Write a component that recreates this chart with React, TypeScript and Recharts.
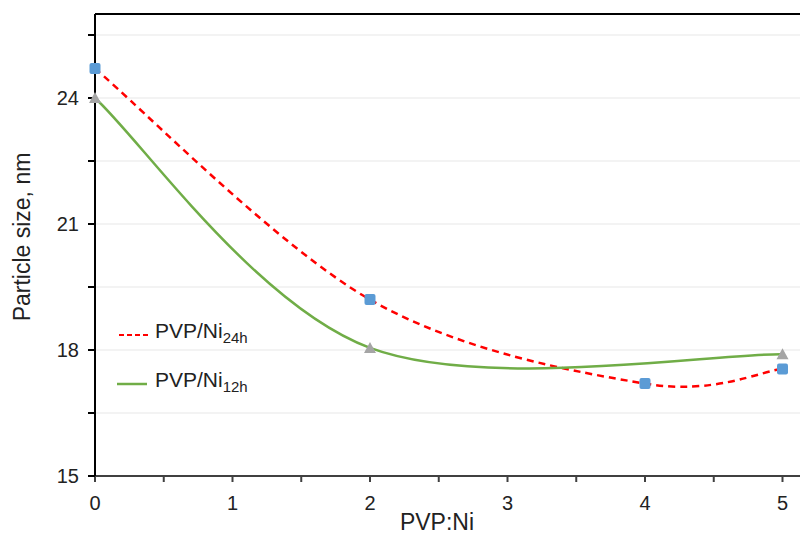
import React from 'react';
import { LineChart, Line, XAxis, YAxis, CartesianGrid, ReferenceLine } from 'recharts';

// PVP:Ni ratios and measured particle sizes (nm)
const ratios24h = [0, 2, 4, 5];
const size24h = [24.7, 19.2, 17.2, 17.55];
const ratios12h = [0, 2, 5];
const size12h = [24.0, 18.05, 17.9];

const xTicks = [0, 0.5, 1, 1.5, 2, 2.5, 3, 3.5, 4, 4.5, 5];
const yTicks = [15, 16.5, 18, 19.5, 21, 22.5, 24, 25.5];

const data24h = ratios24h.map((x, i) => ({ x, y: size24h[i] }));
const data12h = ratios12h.map((x, i) => ({ x, y: size12h[i] }));

const FONT = '"Liberation Sans", Arial, sans-serif';

// Excel-like smoothed line (Catmull-Rom via bezier segments)
const smoothCurve = (context: any) => {
  let pts: number[][] = [];
  return {
    areaStart() {},
    areaEnd() {},
    lineStart() {
      pts = [];
    },
    point(x: number, y: number) {
      pts.push([+x, +y]);
    },
    lineEnd() {
      if (!pts.length) return;
      context.moveTo(pts[0][0], pts[0][1]);
      for (let i = 0; i < pts.length - 1; i++) {
        const p0 = pts[i - 1] || pts[i];
        const p1 = pts[i];
        const p2 = pts[i + 1];
        const p3 = pts[i + 2] || p2;
        context.bezierCurveTo(
          p1[0] + (p2[0] - p0[0]) / 6,
          p1[1] + (p2[1] - p0[1]) / 6,
          p2[0] - (p3[0] - p1[0]) / 6,
          p2[1] - (p3[1] - p1[1]) / 6,
          p2[0],
          p2[1]
        );
      }
    },
  };
};

const SquareDot = (props: any) => {
  const { cx, cy } = props;
  if (cx == null || cy == null) return null;
  return <rect x={cx - 5.5} y={cy - 5.5} width={11} height={11} rx={2} fill="#5B9BD5" />;
};

const TriangleDot = (props: any) => {
  const { cx, cy } = props;
  if (cx == null || cy == null) return null;
  return <path d={`M${cx},${cy - 6} L${cx + 6},${cy + 5} L${cx - 6},${cy + 5} Z`} fill="#A5A5A5" />;
};

const ChartLegend = () => (
  <div
    style={{
      position: 'absolute',
      left: 117,
      top: 310,
      fontFamily: FONT,
      fontSize: 21,
      color: '#222',
      lineHeight: '42px',
    }}
  >
    <div style={{ display: 'flex', alignItems: 'center' }}>
      <svg width={36} height={6} style={{ marginRight: 2 }}>
        <line x1={2} y1={3} x2={32} y2={3} stroke="#FF0000" strokeWidth={2} strokeDasharray="5 3" />
      </svg>
      <span>
        PVP/Ni<sub style={{ fontSize: 15, verticalAlign: -5 }}>24h</sub>
      </span>
    </div>
    <div style={{ display: 'flex', alignItems: 'center' }}>
      <svg width={36} height={6} style={{ marginRight: 2 }}>
        <line x1={0} y1={3} x2={30} y2={3} stroke="#70AD47" strokeWidth={2.5} />
      </svg>
      <span>
        PVP/Ni<sub style={{ fontSize: 15, verticalAlign: -5 }}>12h</sub>
      </span>
    </div>
  </div>
);

const YTitle = () => (
  <text
    x={30}
    y={237}
    transform="rotate(-90 30 237)"
    textAnchor="middle"
    fontSize={23}
    fill="#222"
    fontFamily={FONT}
  >
    Particle size, nm
  </text>
);

const XTitle = () => (
  <text x={437} y={530} textAnchor="middle" fontSize={23} fill="#222" fontFamily={FONT}>
    PVP:Ni
  </text>
);

const App: React.FC = () => {
  return (
    <div style={{ position: 'absolute', left: 0, top: 0, width: 800, height: 535, overflow: 'hidden', background: '#fff' }}>
      <LineChart width={811} height={535} margin={{ top: 14, right: 1, left: 0, bottom: 0 }}>
        <CartesianGrid vertical={false} stroke="#EFEFEF" strokeWidth={1.5} />
        <XAxis
          type="number"
          dataKey="x"
          domain={[0, 5.2]}
          ticks={xTicks}
          allowDuplicatedCategory={false}
          tickFormatter={(v: number) => (Number.isInteger(v) ? String(v) : '')}
          fontSize={20}
          tick={{ fontSize: 20, fill: '#222', fontFamily: FONT }}
          tickSize={6}
          tickMargin={14}
          tickLine={{ stroke: '#404040', strokeWidth: 2 }}
          axisLine={{ stroke: '#404040', strokeWidth: 2 }}
          height={59}
          label={<XTitle />}
        />
        <YAxis
          type="number"
          domain={[15, 26]}
          ticks={yTicks}
          tickFormatter={(v: number) => (v % 3 === 0 ? String(v) : '')}
          fontSize={20}
          tick={{ fontSize: 20, fill: '#222', fontFamily: FONT }}
          tickSize={7}
          tickMargin={9}
          tickLine={{ stroke: '#000', strokeWidth: 2 }}
          axisLine={{ stroke: '#000', strokeWidth: 2 }}
          width={95}
          label={<YTitle />}
        />
        <ReferenceLine y={26} stroke="#000" strokeWidth={2} />
        <Line
          data={data24h}
          dataKey="y"
          name="PVP/Ni24h"
          type={smoothCurve as any}
          stroke="#FF0000"
          strokeWidth={2.5}
          strokeDasharray="7 5"
          dot={<SquareDot />}
          activeDot={false}
          isAnimationActive={false}
        />
        <Line
          data={data12h}
          dataKey="y"
          name="PVP/Ni12h"
          type={smoothCurve as any}
          stroke="#70AD47"
          strokeWidth={2.5}
          dot={<TriangleDot />}
          activeDot={false}
          isAnimationActive={false}
        />
      </LineChart>
      <ChartLegend />
    </div>
  );
};

export default App;
